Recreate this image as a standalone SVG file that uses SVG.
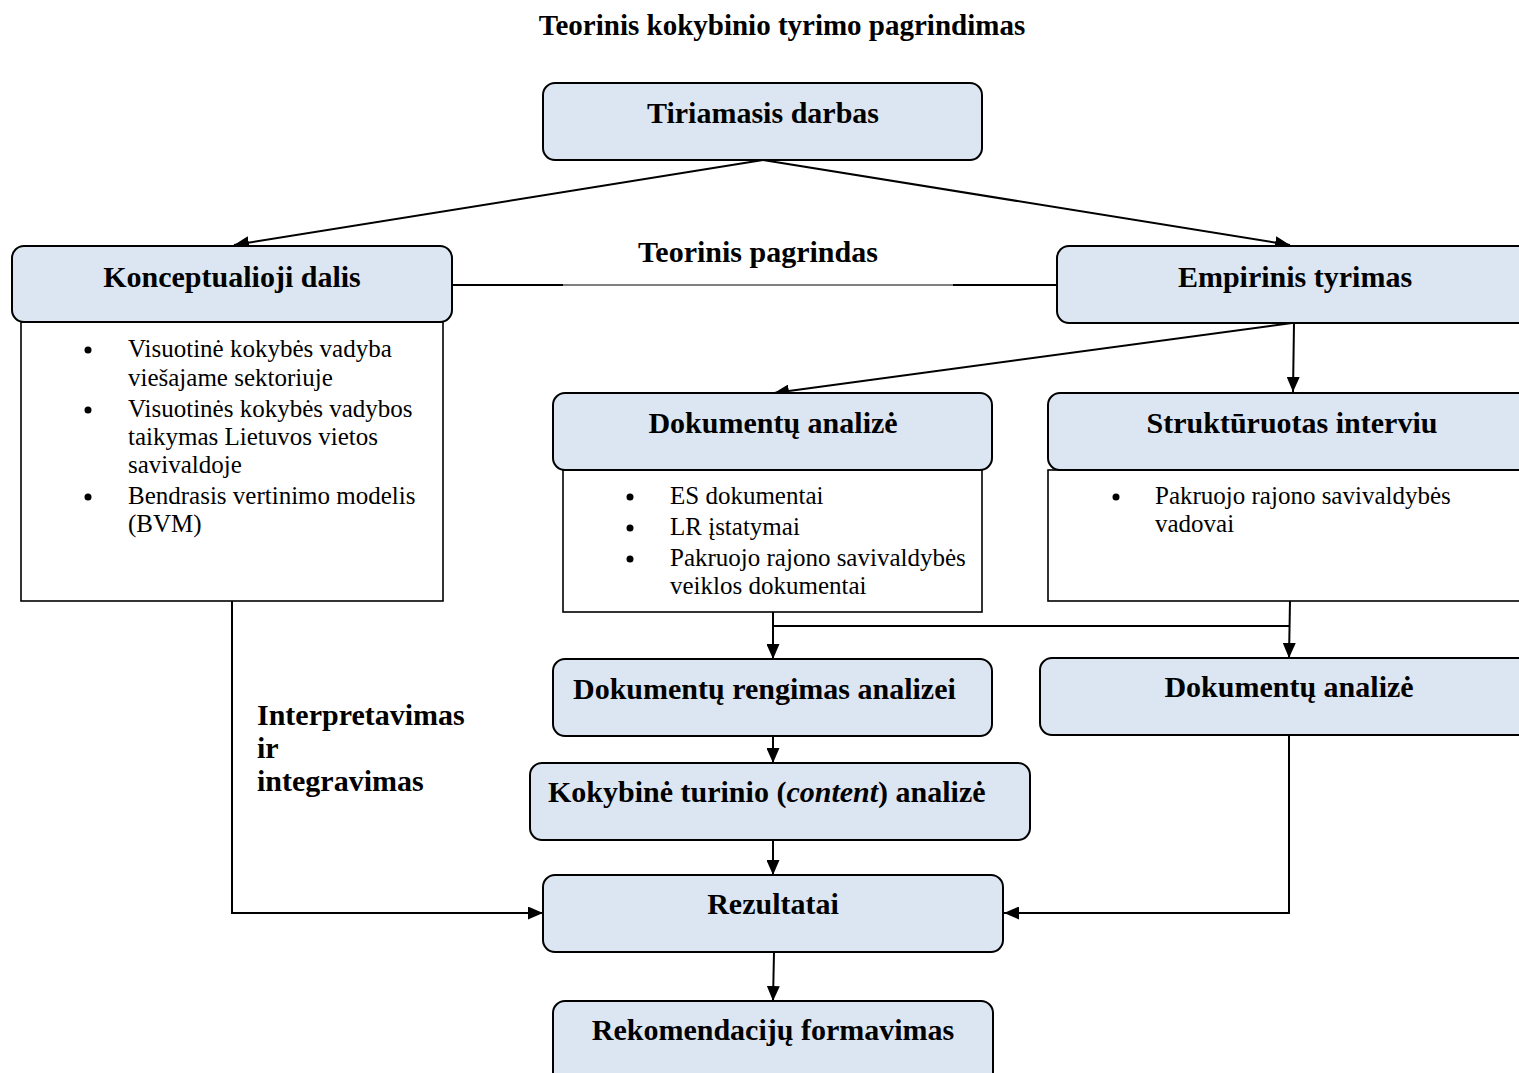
<svg xmlns="http://www.w3.org/2000/svg" width="1519" height="1073" viewBox="0 0 1519 1073">
<style>
.hb{fill:#dce6f2;stroke:#000;stroke-width:2}
.wb{fill:#fff;stroke:#000;stroke-width:1.6}
.h{font-family:"Liberation Serif",serif;font-weight:bold;font-size:30px;fill:#000}
.t{font-family:"Liberation Serif",serif;font-size:25px;fill:#000}
.c{fill:none;stroke:#000;stroke-width:2}
</style>
<defs>
<marker id="ar" viewBox="0 0 15 13" refX="15" refY="6.5" markerWidth="15" markerHeight="13" markerUnits="userSpaceOnUse" orient="auto">
<path d="M0,0 L15,6.5 L0,13 z" fill="#000"/>
</marker>
</defs>
<rect width="1519" height="1073" fill="#fff"/>
<text class="h" x="782" y="35" text-anchor="middle" style="font-size:29px">Teorinis kokybinio tyrimo pagrindimas</text>

<g id="connectors">
<line class="c" x1="763" y1="160" x2="234" y2="245" marker-end="url(#ar)"/>
<line class="c" x1="763" y1="160" x2="1290" y2="245" marker-end="url(#ar)"/>
<line class="c" x1="452" y1="285" x2="563" y2="285"/>
<line x1="563" y1="285" x2="953" y2="285" stroke="#000" stroke-width="1"/>
<line class="c" x1="953" y1="285" x2="1058" y2="285"/>
<line class="c" x1="1292" y1="323" x2="774" y2="393" marker-end="url(#ar)"/>
<line class="c" x1="1294" y1="323" x2="1293" y2="392" marker-end="url(#ar)"/>
<line class="c" x1="773" y1="612" x2="773" y2="659" marker-end="url(#ar)"/>
<polyline class="c" points="773,626 1289,626"/>
<line class="c" x1="1290" y1="601" x2="1289" y2="658" marker-end="url(#ar)"/>
<line class="c" x1="773" y1="736" x2="773" y2="763" marker-end="url(#ar)"/>
<line class="c" x1="773" y1="840" x2="773" y2="875" marker-end="url(#ar)"/>
<polyline class="c" points="232,601 232,913 543,913" marker-end="url(#ar)"/>
<polyline class="c" points="1289,735 1289,913 1004,913" marker-end="url(#ar)"/>
<line class="c" x1="774" y1="952" x2="773" y2="1001" marker-end="url(#ar)"/>
</g>

<text class="h" x="758" y="262" text-anchor="middle">Teorinis pagrindas</text>
<g id="label-interp">
<text class="h" x="257" y="725">Interpretavimas</text>
<text class="h" x="257" y="758">ir</text>
<text class="h" x="257" y="791">integravimas</text>
</g>

<g id="n-tiriamasis">
<rect class="hb" x="543" y="83" width="439" height="77" rx="12"/>
<text class="h" x="763" y="123" text-anchor="middle">Tiriamasis darbas</text>
</g>

<g id="n-konceptualioji">
<rect class="wb" x="21" y="322" width="422" height="279"/>
<rect class="hb" x="12" y="246" width="440" height="76" rx="12"/>
<text class="h" x="232" y="287" text-anchor="middle">Konceptualioji dalis</text>
<g class="t">
<circle cx="88" cy="350" r="3.5"/>
<text x="128" y="357">Visuotinė kokybės vadyba</text>
<text x="128" y="386">viešajame sektoriuje</text>
<circle cx="88" cy="410" r="3.5"/>
<text x="128" y="417">Visuotinės kokybės vadybos</text>
<text x="128" y="445">taikymas Lietuvos vietos</text>
<text x="128" y="473">savivaldoje</text>
<circle cx="88" cy="497" r="3.5"/>
<text x="128" y="504">Bendrasis vertinimo modelis</text>
<text x="128" y="532">(BVM)</text>
</g>
</g>

<g id="n-empirinis">
<rect class="hb" x="1057" y="246" width="480" height="77" rx="12"/>
<text class="h" x="1295" y="287" text-anchor="middle">Empirinis tyrimas</text>
</g>

<g id="n-dokanalize1">
<rect class="wb" x="563" y="470" width="419" height="142"/>
<rect class="hb" x="553" y="393" width="439" height="77" rx="12"/>
<text class="h" x="773" y="433" text-anchor="middle">Dokumentų analizė</text>
<g class="t">
<circle cx="630" cy="497" r="3.5"/>
<text x="670" y="504">ES dokumentai</text>
<circle cx="630" cy="528" r="3.5"/>
<text x="670" y="535">LR įstatymai</text>
<circle cx="630" cy="559" r="3.5"/>
<text x="670" y="566">Pakruojo rajono savivaldybės</text>
<text x="670" y="594">veiklos dokumentai</text>
</g>
</g>

<g id="n-strukturuotas">
<rect class="wb" x="1048" y="470" width="490" height="131"/>
<rect class="hb" x="1048" y="393" width="490" height="77" rx="12"/>
<text class="h" x="1292" y="433" text-anchor="middle">Struktūruotas interviu</text>
<g class="t">
<circle cx="1116" cy="497" r="3.5"/>
<text x="1155" y="504">Pakruojo rajono savivaldybės</text>
<text x="1155" y="532">vadovai</text>
</g>
</g>

<g id="n-rengimas">
<rect class="hb" x="553" y="659" width="439" height="77" rx="12"/>
<text class="h" x="573" y="699">Dokumentų rengimas analizei</text>
</g>

<g id="n-dokanalize2">
<rect class="hb" x="1040" y="658" width="500" height="77" rx="12"/>
<text class="h" x="1289" y="697" text-anchor="middle">Dokumentų analizė</text>
</g>

<g id="n-kokybine">
<rect class="hb" x="530" y="763" width="500" height="77" rx="12"/>
<text class="h" x="548" y="802">Kokybinė turinio (<tspan font-style="italic">content</tspan>) analizė</text>
</g>

<g id="n-rezultatai">
<rect class="hb" x="543" y="875" width="460" height="77" rx="12"/>
<text class="h" x="773" y="914" text-anchor="middle">Rezultatai</text>
</g>

<g id="n-rekomendaciju">
<rect class="hb" x="553" y="1001" width="440" height="90" rx="12"/>
<text class="h" x="773" y="1040" text-anchor="middle">Rekomendacijų formavimas</text>
</g>
</svg>
